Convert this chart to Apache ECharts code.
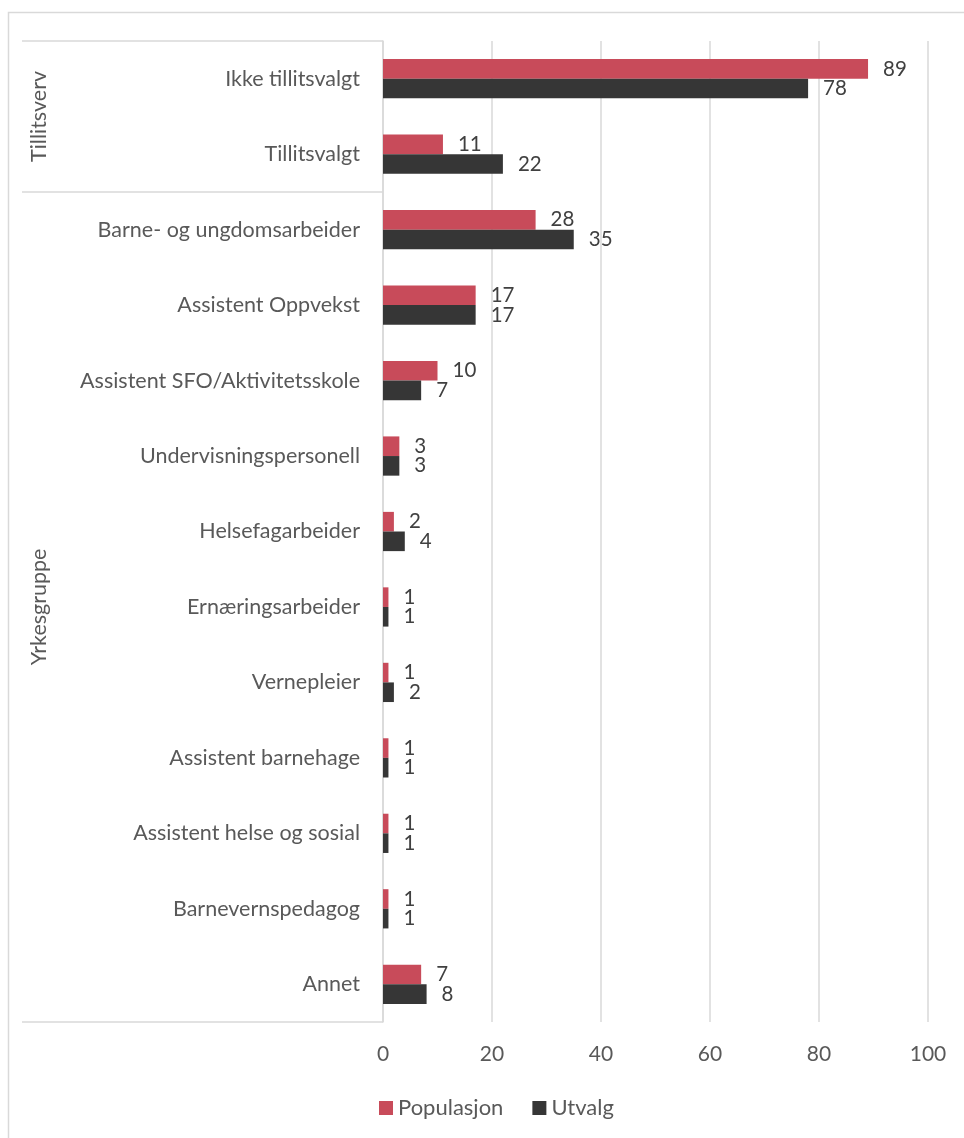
<!DOCTYPE html>
<html>
<head>
<meta charset="utf-8">
<script src="https://cdn.jsdelivr.net/npm/echarts@6/dist/echarts.min.js"></script>
<style>
  html, body { margin: 0; padding: 0; background: #fff; }
  #chart { width: 964px; height: 1138px; }
</style>
</head>
<body>
<div id="chart"></div>
<script>
// Categories, top to bottom
const categories = [
  'Ikke tillitsvalgt',
  'Tillitsvalgt',
  'Barne- og ungdomsarbeider',
  'Assistent Oppvekst',
  'Assistent SFO/Aktivitetsskole',
  'Undervisningspersonell',
  'Helsefagarbeider',
  'Ernæringsarbeider',
  'Vernepleier',
  'Assistent barnehage',
  'Assistent helse og sosial',
  'Barnevernspedagog',
  'Annet'
];

// Category groups: name and number of categories in each
const groupNames = ['Tillitsverv', 'Yrkesgruppe'];
const groupSizes = [2, 11];

const seriesNames = ['Populasjon', 'Utvalg'];
const populasjon = [89, 11, 28, 17, 10, 3, 2, 1, 1, 1, 1, 1, 7];
const utvalg = [78, 22, 35, 17, 7, 3, 4, 1, 2, 1, 1, 1, 8];

const xTicks = { min: 0, max: 100, interval: 20 };

const FONT = 'Lato, "Open Sans", sans-serif';
const TEXT = '#595959';
const LINE = '#d9d9d9';
const COLORS = ['#c84b5a', '#363636'];

const chart = echarts.init(document.getElementById('chart'), null, { renderer: 'canvas' });

function barSeries(name, data, color) {
  return {
    name: name,
    type: 'bar',
    data: data,
    barWidth: '26%',
    barGap: '0%',
    itemStyle: { color: color },
    label: {
      show: true,
      position: 'right',
      distance: 15,
      fontFamily: FONT,
      fontSize: 20.5,
      color: '#404040'
    }
  };
}

chart.setOption({
  animation: false,
  backgroundColor: '#fff',
  textStyle: { fontFamily: FONT },
  grid: { left: 383, right: 36, top: 41, bottom: 116, containLabel: false },
  legend: {
    data: seriesNames,
    left: 379,
    top: 1097,
    padding: 0,
    itemWidth: 14,
    itemHeight: 14,
    itemGap: 29,
    icon: 'rect',
    textStyle: { fontFamily: FONT, fontSize: 22, color: TEXT }
  },
  xAxis: {
    type: 'value',
    min: xTicks.min,
    max: xTicks.max,
    interval: xTicks.interval,
    axisLine: { show: false },
    axisTick: { show: false },
    splitLine: { show: true, lineStyle: { color: LINE, width: 1.5 } },
    axisLabel: { fontFamily: FONT, fontSize: 21, color: TEXT, margin: 22 }
  },
  yAxis: {
    type: 'category',
    data: categories,
    inverse: true,
    axisLine: { show: true, lineStyle: { color: LINE, width: 1.5 } },
    axisTick: { show: false },
    axisLabel: { fontFamily: FONT, fontSize: 21.5, color: TEXT, margin: 23 }
  },
  series: [
    barSeries(seriesNames[0], populasjon, COLORS[0]),
    barSeries(seriesNames[1], utvalg, COLORS[1])
  ]
});

// Group brackets on the category axis, placed from the axis scale
function drawGroups() {
  const c0 = chart.convertToPixel({ yAxisIndex: 0 }, 0);
  const c1 = chart.convertToPixel({ yAxisIndex: 0 }, 1);
  const step = c1 - c0;
  const axisX = chart.convertToPixel({ xAxisIndex: 0 }, 0);
  const leftX = 22;
  const elements = [
    {
      type: 'rect',
      shape: { x: 8.5, y: 12.5, width: 1000, height: 1200 },
      style: { fill: 'none', stroke: LINE, lineWidth: 1.5 },
      silent: true,
      z: -1
    }
  ];
  let start = 0;
  const edges = [c0 - step / 2];
  groupSizes.forEach(function (n, gi) {
    const top = c0 + (start - 0.5) * step;
    const bottom = c0 + (start + n - 0.5) * step;
    edges.push(bottom);
    elements.push({
      type: 'text',
      x: 39,
      y: (top + bottom) / 2,
      rotation: Math.PI / 2,
      style: {
        text: groupNames[gi],
        fontFamily: FONT,
        fontSize: 21.5,
        fill: TEXT,
        align: 'center',
        verticalAlign: 'middle'
      },
      silent: true
    });
    start += n;
  });
  edges.forEach(function (y) {
    elements.push({
      type: 'line',
      shape: { x1: leftX, y1: y, x2: axisX, y2: y },
      style: { stroke: LINE, lineWidth: 1.5 },
      silent: true
    });
  });
  chart.setOption({ graphic: { elements: elements } });
}
drawGroups();
</script>
</body>
</html>
